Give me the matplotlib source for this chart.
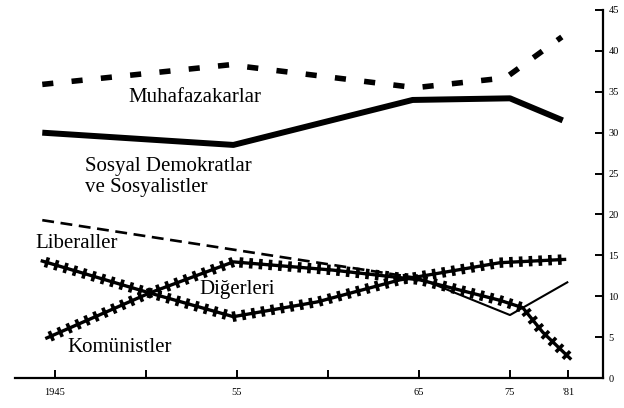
import matplotlib
matplotlib.use("Agg")
import matplotlib.pyplot as plt
from matplotlib import patheffects as pe

# ---- data (x in axis tick units: 0 = 1945 tick, 1 per tick interval) ----
tick_pos = [0, 1, 2, 3, 4, 5, 5.64]
tick_labels = ["1945", "", "55", "", "65", "75", "'81"]
y_ticks = [0, 5, 10, 15, 20, 25, 30, 35, 40, 45]

muh_x = [-0.14, 1.92, 3.96, 4.95, 5.57]
muh_y = [35.9, 38.3, 35.5, 36.7, 41.7]

sd_x = [-0.14, 1.96, 3.93, 5.0, 5.58]
sd_y = [30.0, 28.5, 34.0, 34.2, 31.5]

lib_x = [-0.14, 4.0, 5.0, 5.63]
lib_y = [19.3, 12.2, 7.7, 11.7]

s1_x = [-0.14, 1.04, 1.96, 2.88, 3.79, 4.89, 5.60]
s1_y = [14.3, 10.4, 7.5, 9.3, 12.0, 14.1, 14.5]

s2_x = [-0.09, 1.04, 1.96, 3.05, 4.01, 4.89, 5.14, 5.36, 5.66]
s2_y = [4.9, 10.4, 14.2, 13.2, 12.0, 9.5, 8.6, 5.6, 2.4]

labels = ["Muhafazakarlar", "Sosyal Demokratlar\nve Sosyalistler", "Liberaller",
          "Diğerleri", "Komünistler"]

# ---- figure ----
fig = plt.figure(figsize=(6.24, 4.08), dpi=100)
ax = fig.add_axes([0.024, 0.0735, 0.942, 0.902])
ax.set_xlim(-0.44, 6.02)
ax.set_ylim(0, 45)

serif = ["Liberation Serif", "DejaVu Serif"]

ax.plot(muh_x, muh_y, color="black", lw=4.0, linestyle=(0, (2.0, 3.3)),
        solid_capstyle="butt", dash_capstyle="butt")
ax.plot(sd_x, sd_y, color="black", lw=4.3, solid_capstyle="butt")

# liberals: dashed part then thin solid part
split = 2
ax.plot(lib_x[:split], lib_y[:split], color="black", lw=1.9,
        linestyle=(0, (4.5, 2.5)))
ax.plot(lib_x[split - 1:], lib_y[split - 1:], color="black", lw=1.5)

ticked = [pe.TickedStroke(spacing=7, angle=90, length=0.35, linewidth=2.6),
          pe.TickedStroke(spacing=7, angle=-90, length=0.35, linewidth=2.6),
          pe.Normal()]
ax.plot(s1_x, s1_y, color="black", lw=2.4, path_effects=ticked)
ax.plot(s2_x, s2_y, color="black", lw=2.4, path_effects=ticked)

fs = 15
ax.text(1.54, 34.3, labels[0], ha="center", va="center", fontsize=fs, family=serif)
ax.text(0.33, 24.6, labels[1], ha="left", va="center", fontsize=fs,
        family=serif, linespacing=1.1)
ax.text(-0.22, 16.4, labels[2], ha="left", va="center", fontsize=fs, family=serif)
ax.text(1.59, 10.8, labels[3], ha="left", va="center", fontsize=fs, family=serif)
ax.text(0.14, 3.7, labels[4], ha="left", va="center", fontsize=fs, family=serif)

# axes styling
for s in ["top", "left"]:
    ax.spines[s].set_visible(False)
ax.spines["right"].set_linewidth(1.6)
ax.spines["bottom"].set_linewidth(1.6)
ax.yaxis.tick_right()
ax.set_yticks(y_ticks)
ax.set_yticklabels([str(v) for v in y_ticks], fontsize=7.5, family=serif)
ax.set_xticks(tick_pos)
ax.set_xticklabels(tick_labels, fontsize=7.5, family=serif)
ax.tick_params(axis="both", direction="in", length=6, width=1.4, pad=4)
ax.tick_params(axis="x", pad=7)

fig.savefig("out.png", dpi=100)
